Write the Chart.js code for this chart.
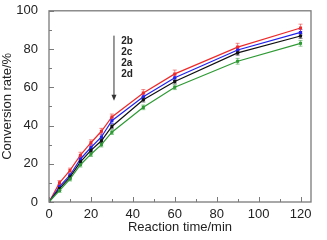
<!DOCTYPE html>
<html>
<head>
<meta charset="utf-8">
<script src="https://cdn.jsdelivr.net/npm/chart.js@4/dist/chart.umd.min.js"></script>
<style>
  html, body { margin: 0; padding: 0; background: #fff; }
  #wrap { width: 327px; height: 240px; }
</style>
</head>
<body>
<div id="wrap"><canvas id="chart" width="327" height="240"></canvas></div>
<script>
// reaction time (min)
const times = [0, 5, 10, 15, 20, 25, 30, 45, 60, 90, 120];

// conversion rate (%) per catalyst
const conv2b = [0, 10, 16.5, 24.5, 31, 37, 44.5, 57, 67, 81, 91];
const conv2c = [0, 8, 14, 22.5, 28.5, 34, 42.5, 55, 65, 79.5, 88.7];
const conv2a = [0, 7, 13, 21, 27, 32, 39.5, 53.5, 63, 78, 86.8];
const conv2d = [0, 6, 12, 19.5, 25, 30, 36.5, 49.5, 60, 73.6, 83];

// error bar half-widths
const err2b = [0, 1.2, 1.2, 1.5, 1.5, 1.5, 1.5, 1.8, 2, 2, 2];
const err2c = [0, 1, 1, 1.5, 1.5, 1.5, 1.5, 1.5, 1.5, 1.5, 1.5];
const err2a = [0, 1, 1, 1.2, 1.2, 1.2, 1.2, 1.2, 1.2, 1.2, 1.2];
const err2d = [0, 1, 1, 1.2, 1.2, 1.2, 1.2, 1.2, 1.2, 1.5, 1.5];

const xTicks = [0, 10, 20, 30, 40, 50, 60, 70, 80, 90, 100, 110, 120];
const yTicks = [0, 10, 20, 30, 40, 50, 60, 70, 80, 90, 100];
const legendOrder = ['2b', '2c', '2a', '2d'];

const FONT = 'Arial, "Liberation Sans", sans-serif';

function series(label, values, errs, color) {
    return {
        label: label,
        data: times.map((t, i) => ({ x: t, y: values[i] })),
        errs: errs,
        borderColor: color,
        backgroundColor: color,
        borderWidth: 1.2,
        pointStyle: 'rect',
        pointRadius: 1.3,
        pointHoverRadius: 1.3,
        tension: 0
    };
}

// error bars, inward ticks, frame, arrow and labels
const decorations = {
    id: 'decorations',
    beforeDatasetsDraw(chart) {
        const ctx = chart.ctx;
        const xs = chart.scales.x, ys = chart.scales.y;
        ctx.save();
        chart.data.datasets.forEach(ds => {
            ctx.strokeStyle = ds.borderColor;
            ctx.globalAlpha = 0.55;
            ctx.lineWidth = 1;
            ds.data.forEach((p, i) => {
                const e = ds.errs[i];
                if (!e) return;
                const px = xs.getPixelForValue(p.x);
                const top = ys.getPixelForValue(p.y + e);
                const bot = ys.getPixelForValue(p.y - e);
                ctx.beginPath();
                ctx.moveTo(px, top); ctx.lineTo(px, bot);
                ctx.moveTo(px - 2, top); ctx.lineTo(px + 2, top);
                ctx.moveTo(px - 2, bot); ctx.lineTo(px + 2, bot);
                ctx.stroke();
            });
        });
        ctx.restore();
    },
    afterDraw(chart) {
        const ctx = chart.ctx;
        const a = chart.chartArea;
        const xs = chart.scales.x, ys = chart.scales.y;
        ctx.save();
        ctx.strokeStyle = '#7a7a7a';
        ctx.lineWidth = 1.3;
        ctx.strokeRect(a.left, a.top, a.right - a.left, a.bottom - a.top);

        ctx.beginPath();
        xTicks.forEach(v => {
            const px = Math.round(xs.getPixelForValue(v)) + 0.5;
            const len = v % 20 === 0 ? 5 : 3;
            ctx.moveTo(px, a.bottom); ctx.lineTo(px, a.bottom - len);
        });
        yTicks.forEach(v => {
            const py = Math.round(ys.getPixelForValue(v)) + 0.5;
            const len = v % 20 === 0 ? 5 : 3;
            ctx.moveTo(a.left, py); ctx.lineTo(a.left + len, py);
        });
        ctx.lineWidth = 1;
        ctx.stroke();

        // arrow
        const ax = xs.getPixelForValue(31);
        const ay1 = ys.getPixelForValue(87);
        const ay2 = ys.getPixelForValue(53);
        ctx.strokeStyle = '#333';
        ctx.fillStyle = '#333';
        ctx.lineWidth = 1;
        ctx.beginPath();
        ctx.moveTo(ax, ay1); ctx.lineTo(ax, ay2 - 5);
        ctx.stroke();
        ctx.beginPath();
        ctx.moveTo(ax - 2.5, ay2 - 6); ctx.lineTo(ax + 2.5, ay2 - 6); ctx.lineTo(ax, ay2);
        ctx.closePath();
        ctx.fill();

        ctx.fillStyle = '#222';
        ctx.font = 'bold 10px ' + FONT;
        ctx.textAlign = 'left';
        ctx.textBaseline = 'middle';
        const lx = xs.getPixelForValue(34.5);
        legendOrder.forEach((t, i) => {
            ctx.fillText(t, lx, ys.getPixelForValue(84 - i * 5.7));
        });
        ctx.restore();
    }
};

new Chart(document.getElementById('chart').getContext('2d'), {
    type: 'line',
    data: {
        datasets: [
            series('2d', conv2d, err2d, '#2e9a34'),
            series('2a', conv2a, err2a, '#111111'),
            series('2c', conv2c, err2c, '#2222ee'),
            series('2b', conv2b, err2b, '#ee2a2a')
        ]
    },
    options: {
        responsive: false,
        animation: false,
        layout: { padding: { top: 10, right: 16, left: 0, bottom: 0 } },
        plugins: { legend: { display: false }, tooltip: { enabled: false } },
        scales: {
            x: {
                type: 'linear',
                min: 0,
                max: 125,
                afterBuildTicks: s => { s.ticks = xTicks.map(v => ({ value: v })); },
                afterFit: s => { s.height = 38; },
                grid: { display: false },
                border: { display: false },
                ticks: {
                    padding: -3,
                    maxRotation: 0,
                    color: '#222',
                    font: { family: FONT, size: 13 },
                    callback: v => (v % 20 === 0 ? v : '')
                },
                title: {
                    display: true,
                    text: 'Reaction time/min',
                    color: '#222',
                    padding: { top: 0, bottom: 5 },
                    font: { family: FONT, size: 13 }
                }
            },
            y: {
                min: 0,
                max: 100,
                afterBuildTicks: s => { s.ticks = yTicks.map(v => ({ value: v })); },
                afterFit: s => { s.width = 49; },
                grid: { display: false },
                border: { display: false },
                ticks: {
                    padding: 3,
                    color: '#222',
                    font: { family: FONT, size: 13 },
                    callback: v => (v % 20 === 0 ? v : '')
                },
                title: {
                    display: true,
                    text: 'Conversion rate/%',
                    color: '#222',
                    padding: { top: 0, bottom: 2 },
                    font: { family: FONT, size: 13 }
                }
            }
        }
    },
    plugins: [decorations]
});
</script>
</body>
</html>
